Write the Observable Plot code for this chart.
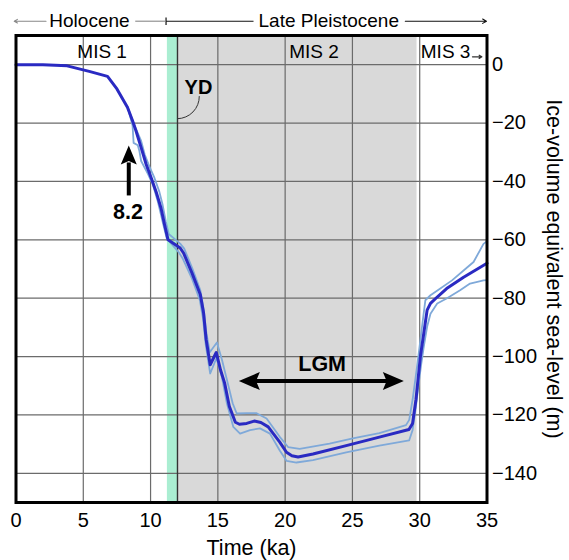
<!DOCTYPE html>
<html><head><meta charset="utf-8">
<script src="https://cdn.jsdelivr.net/npm/d3@7"></script>
<script src="https://cdn.jsdelivr.net/npm/@observablehq/plot@0.6"></script>
<style>body{margin:0;background:#fff;}</style>
</head><body><div id="chart"></div>
<script>
// ---- data ----
const xTicks = [0, 5, 10, 15, 20, 25, 30, 35];
const yTicks = [0, -20, -40, -60, -80, -100, -120, -140];
const xGrid = [5, 10, 15, 20, 25, 30];

// Time (ka) and ice-volume equivalent sea level (m): central estimate
const mainX = [0, 2.0, 3.8, 5.44, 6.8, 7.5, 8.28, 8.66, 8.92, 9.3, 9.67, 10.05, 10.41, 10.78, 11.05, 11.3, 12.2, 12.46, 13.08, 13.7, 13.94, 14.13, 14.43, 14.88, 15.2, 15.5, 15.85, 16.3, 16.6, 17.14, 17.7, 18.2, 18.74, 19.6, 20.1, 20.5, 20.96, 22.07, 24.54, 27.0, 29.2, 29.47, 29.72, 30.05, 30.3, 30.55, 30.8, 31.3, 32.0, 33.26, 35];
const mainY = [0, 0, -0.4, -2.3, -4.0, -8.3, -14.6, -19.2, -22.7, -28.4, -34.1, -38.8, -43.5, -49.2, -55, -60, -62.8, -64.6, -71.4, -78.8, -85.1, -94.2, -102.8, -98.6, -104.6, -109, -117, -122.5, -123.2, -122.9, -122.1, -122.6, -124.1, -129.3, -132.8, -134, -134.4, -133.4, -130.5, -127.6, -125, -122.9, -114.8, -100, -92.1, -84.1, -81.8, -79.6, -76.7, -72.8, -68];

// upper bound
const upperX = [8.3, 8.66, 8.92, 9.3, 9.56, 9.95, 10.29, 10.65, 10.9, 11.14, 11.35, 12.2, 12.5, 13.1, 13.7, 13.95, 14.15, 14.4, 14.93, 15.3, 15.8, 16.1, 16.4, 17.14, 17.88, 18.62, 19.6, 20.22, 21.08, 23.3, 25.03, 27.0, 28.98, 29.22, 29.47, 29.8, 30.05, 30.17, 30.42, 30.8, 31.53, 32.4, 33.26, 34.0, 34.74, 35];
const upperY = [-14.6, -19.0, -22.1, -26.1, -30.7, -35.3, -38.8, -43.5, -48.1, -53.9, -58, -61.3, -63, -69.8, -77.3, -84, -92, -98.5, -95.2, -101, -110.3, -116, -119.5, -119.4, -119.4, -121.2, -127.5, -131, -131.6, -129.8, -128, -126.2, -123.5, -121.7, -114.8, -103.5, -94.4, -89.8, -80.7, -79, -76.7, -73.9, -70.5, -67.6, -61.4, -60.5];

// lower bound
const lowerX = [8.3, 8.66, 8.74, 9.05, 9.17, 9.3, 9.82, 10.17, 10.54, 10.78, 10.9, 11.2, 12.1, 12.4, 13.05, 13.65, 13.9, 14.1, 14.43, 14.9, 15.3, 15.67, 16.15, 16.65, 17.39, 18.13, 18.87, 19.6, 20.1, 20.84, 22.07, 24.54, 27.0, 29.22, 29.47, 29.72, 29.9, 30.1, 30.3, 30.55, 30.8, 31.3, 32.0, 33.0, 33.74, 34.74, 35];
const lowerY = [-14.6, -20.8, -26.8, -27.6, -29.6, -33.0, -37.6, -41.1, -46.9, -51.5, -53.9, -59.5, -64.3, -66.5, -73, -80.5, -87, -96, -105.8, -100.5, -107, -116, -124.1, -126.4, -125.2, -124.6, -126.4, -132.2, -135.7, -136.3, -135.5, -132.8, -130.5, -128.7, -125.2, -117.1, -110.1, -103, -96.7, -89.8, -85.3, -81.8, -80.1, -77.3, -75, -73.9, -73.8];

// shaded periods
const ydBand = [{start: 11.25, end: 12.0}];
const lgmBand = [{start: 12.0, end: 29.8}];

// labels
const misLabels = [{label: "MIS 1", x: 6.4}, {label: "MIS 2", x: 22.15}];
const mis3Label = [{label: "MIS 3", x: 30.08}];
const epochLabels = [{label: "Holocene", x: 5.46}, {label: "Late Pleistocene", x: 23.24}];

// ---- build ----
const pts = (xs, ys) => xs.map((x, i) => ({x, y: ys[i]}));
const mainPts = pts(mainX, mainY);
const upperPts = pts(upperX, upperY);
const lowerPts = pts(lowerX, lowerY);

const FONT = "'Liberation Sans', Arial, Helvetica, sans-serif";
const GRID = "#6b6b6b";
const HEAD_Y = 14.9;   // epoch header row
const MIS_Y = 4.35;    // MIS row

const stealth = {
  draw(ctx, l, r) {
    ctx.moveTo(0, -l);
    ctx.lineTo(r, 0);
    ctx.lineTo(0, -l * 0.18);
    ctx.lineTo(-r, 0);
    ctx.closePath();
  }
};

const chart = Plot.plot({
  width: 569,
  height: 560,
  marginLeft: 15.5,
  marginRight: 82.5,
  marginTop: 35,
  marginBottom: 58,
  x: {domain: [0, 35]},
  y: {domain: [-150, 10]},
  style: {fontFamily: FONT, fontSize: "20px", color: "black", background: "white", overflow: "visible"},
  marks: [
    Plot.rect(lgmBand, {x1: "start", x2: "end", fill: "#d9d9d9"}),
    Plot.rect(ydBand, {x1: "start", x2: "end", fill: "#aaeed2"}),
    Plot.ruleX(xGrid, {stroke: GRID, strokeWidth: 1.2}),
    Plot.ruleY(yTicks, {stroke: GRID, strokeWidth: 1.2}),
    Plot.ruleX(lgmBand, {x: "start", stroke: "#333", strokeWidth: 1.4}),

    // axes
    Plot.axisX(xTicks, {tickSize: 0, tickPadding: 10, fontSize: 20, label: null}),
    Plot.axisY(yTicks, {anchor: "right", tickSize: 0, tickPadding: 5, fontSize: 20, label: null}),
    Plot.text(["Time (ka)"], {text: d => d, frameAnchor: "bottom", dy: 46, lineAnchor: "middle", fontSize: 21.5}),
    Plot.text(["Ice-volume equivalent sea-level (m)"], {text: d => d, frameAnchor: "right", dx: 67, rotate: 90, textAnchor: "middle", lineAnchor: "middle", fontSize: 21.5}),

    // sea-level curves
    Plot.line(upperPts, {x: "x", y: "y", stroke: "#7fa9d9", strokeWidth: 1.8}),
    Plot.line(lowerPts, {x: "x", y: "y", stroke: "#7fa9d9", strokeWidth: 1.8}),
    Plot.line(mainPts, {x: "x", y: "y", stroke: "#2a2ac2", strokeWidth: 3}),

    // MIS labels
    Plot.text(misLabels, {x: "x", y: () => MIS_Y, text: "label", fontSize: 19}),
    Plot.text(mis3Label, {x: "x", y: () => MIS_Y, text: "label", textAnchor: "start", fontSize: 19}),
    Plot.arrow([{x1: 33.92, x2: 34.62}], {x1: "x1", x2: "x2", y1: () => 2.7, y2: () => 2.7, stroke: "#333", strokeWidth: 1.2, headLength: 4}),

    // epoch header
    Plot.text(epochLabels, {x: "x", y: () => HEAD_Y, text: "label", fontSize: 19}),
    Plot.arrow([{x1: 2.23, x2: -0.13}], {x1: "x1", x2: "x2", y1: () => HEAD_Y, y2: () => HEAD_Y, stroke: "#888", strokeWidth: 1.1, headLength: 5}),
    Plot.link([{x1: 8.86, x2: 11.07}], {x1: "x1", x2: "x2", y1: () => HEAD_Y, y2: () => HEAD_Y, stroke: "#888", strokeWidth: 1.1}),
    Plot.link([{x1: 11.15, x2: 17.65}], {x1: "x1", x2: "x2", y1: () => HEAD_Y, y2: () => HEAD_Y, stroke: "#111", strokeWidth: 1.1}),
    Plot.link([{x: 11.15}], {x1: "x", x2: "x", y1: () => HEAD_Y + 1.3, y2: () => HEAD_Y - 1.3, stroke: "#111", strokeWidth: 1.2}),
    Plot.arrow([{x1: 28.93, x2: 34.96}], {x1: "x1", x2: "x2", y1: () => HEAD_Y, y2: () => HEAD_Y, stroke: "#111", strokeWidth: 1.1, headLength: 6}),

    // YD annotation
    Plot.text([{label: "YD", x: 13.56, y: -8.0}], {x: "x", y: "y", text: "label", fontSize: 20, fontWeight: "bold"}),
    Plot.arrow([{x1: 13.62, y1: -10.9, x2: 12.02, y2: -18.5}], {x1: "x1", y1: "y1", x2: "x2", y2: "y2", bend: 45, headLength: 0, stroke: "#333", strokeWidth: 1}),

    // 8.2 ka event arrow
    Plot.link([{x: 8.38, y1: -44.8, y2: -33.5}], {x1: "x", x2: "x", y1: "y1", y2: "y2", stroke: "black", strokeWidth: 4}),
    Plot.vector([{x: 8.38, y: -27.7}], {x: "x", y: "y", length: 19, r: 8, rotate: 0, anchor: "end", shape: stealth, fill: "black", stroke: "none"}),
    Plot.text([{label: "8.2", x: 8.32, y: -50.5}], {x: "x", y: "y", text: "label", fontSize: 21.5, fontWeight: "bold"}),

    // LGM arrow
    Plot.link([{x1: 17.6, x2: 27.8, y: -108.4}], {x1: "x1", x2: "x2", y1: "y", y2: "y", stroke: "black", strokeWidth: 4}),
    Plot.vector([{x: 16.56, y: -108.4, a: -90}, {x: 28.82, y: -108.4, a: 90}], {x: "x", y: "y", rotate: "a", length: 21, r: 9, anchor: "end", shape: stealth, fill: "black", stroke: "none"}),
    Plot.text([{label: "LGM", x: 22.75, y: -102.7}], {x: "x", y: "y", text: "label", fontSize: 21.5, fontWeight: "bold"}),

    Plot.frame({stroke: "black", strokeWidth: 3})
  ]
});
document.getElementById("chart").appendChild(chart);
</script>
</body></html>
